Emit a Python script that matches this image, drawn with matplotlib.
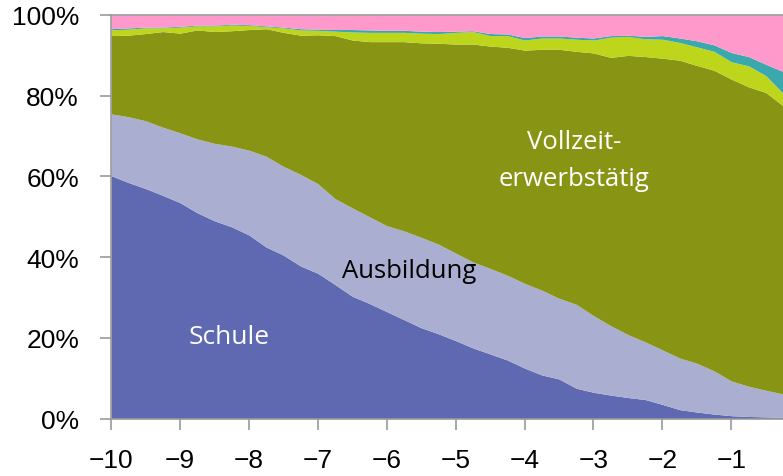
import numpy as np
import matplotlib.pyplot as plt

# years before reference point
x = np.arange(-10, 0, 0.25)

# cumulative upper boundaries of each band, in percent
schule = [60.2, 58.5, 57.0, 55.3, 53.5, 51.0, 49.0, 47.5, 45.5, 42.5,
          40.5, 37.8, 36.0, 33.2, 30.3, 28.5, 26.5, 24.5, 22.5, 21.0,
          19.3, 17.5, 16.0, 14.5, 12.5, 10.8, 9.8, 7.5, 6.5, 5.8,
          5.2, 4.7, 3.5, 2.2, 1.6, 1.1, 0.7, 0.5, 0.4, 0.3]
ausbildung = [75.5, 74.8, 73.8, 72.2, 70.8, 69.3, 68.2, 67.5, 66.5, 65.0,
              62.5, 60.5, 58.2, 54.5, 52.2, 50.0, 47.8, 46.5, 44.9, 43.2,
              41.0, 38.8, 37.2, 35.5, 33.5, 31.8, 29.8, 28.3, 25.5, 23.0,
              20.8, 19.0, 17.0, 15.0, 13.7, 11.8, 9.3, 8.0, 7.0, 6.1]
vollzeit = [94.9, 95.0, 95.4, 95.9, 95.5, 96.3, 95.9, 96.1, 96.4, 96.6,
            95.7, 95.0, 95.1, 94.9, 93.8, 93.4, 93.4, 93.4, 93.1, 93.0,
            92.8, 92.8, 92.3, 92.0, 91.3, 91.5, 91.5, 91.0, 90.6, 89.5,
            90.0, 89.7, 89.3, 88.8, 87.5, 86.3, 84.1, 82.2, 80.8, 77.5]
teilzeit = [96.3, 96.5, 96.8, 96.8, 97.0, 97.3, 97.3, 97.5, 97.4, 97.1,
            96.8, 96.3, 96.2, 96.0, 95.8, 95.7, 95.7, 95.7, 95.5, 95.4,
            95.7, 95.9, 94.9, 94.9, 93.8, 94.3, 94.3, 94.0, 93.8, 94.5,
            94.7, 94.1, 94.0, 93.2, 92.1, 91.0, 88.4, 87.4, 85.0, 80.6]
sonstige = [96.6, 96.8, 97.0, 97.0, 97.2, 97.5, 97.5, 97.7, 97.6, 97.3,
            97.0, 96.6, 96.5, 96.4, 96.4, 96.3, 96.2, 96.2, 96.0, 95.9,
            96.0, 96.1, 95.4, 95.3, 94.4, 94.8, 94.8, 94.5, 94.3, 94.9,
            95.0, 94.7, 94.9, 94.3, 93.6, 92.6, 90.7, 89.7, 87.8, 86.0]
rest = [100.0] * len(x)

bounds = [np.zeros(len(x)), schule, ausbildung, vollzeit, teilzeit, sonstige, rest]
colors = ['#5f69b1', '#aaaed0', '#879414', '#bdd61c', '#3aa8ac', '#ff99cc']

plt.rcParams['font.family'] = ['Liberation Sans', 'DejaVu Sans']

fig = plt.figure(figsize=(7.83, 4.77), dpi=100)
ax = fig.add_axes([111 / 783, 1 - 419.5 / 477, 1 - 111 / 783, (419.5 - 16) / 477])

for i in range(6):
    ax.fill_between(x, bounds[i], bounds[i + 1], color=colors[i], lw=0)

ax.set_xlim(-10, -0.25)
ax.set_ylim(0, 100)
ax.set_xticks(range(-10, 0))
ax.set_yticks(range(0, 101, 20))
ax.set_yticklabels([f'{v}%' for v in range(0, 101, 20)])

for s in ['left', 'top', 'bottom']:
    ax.spines[s].set_color('#999999')
    ax.spines[s].set_linewidth(1.2)
ax.spines['right'].set_visible(False)
ax.tick_params(axis='both', colors='#999999', length=8, width=1.2, labelsize=19,
               labelcolor='black')
ax.tick_params(axis='x', pad=13)
ax.tick_params(axis='y', pad=15)

ax.text(-8.29, 20.2, 'Schule', color='white', fontsize=19, ha='center',
        va='center', family='Open Sans')
ax.text(-5.67, 36.6, 'Ausbildung', color='black', fontsize=18.5, ha='center',
        va='center', family='Open Sans')
ax.text(-3.28, 64.0, 'Vollzeit-\nerwerbstätig', color='white', fontsize=18.5,
        ha='center', va='center', linespacing=1.65, family='Open Sans')

fig.savefig('out.png', dpi=100)
